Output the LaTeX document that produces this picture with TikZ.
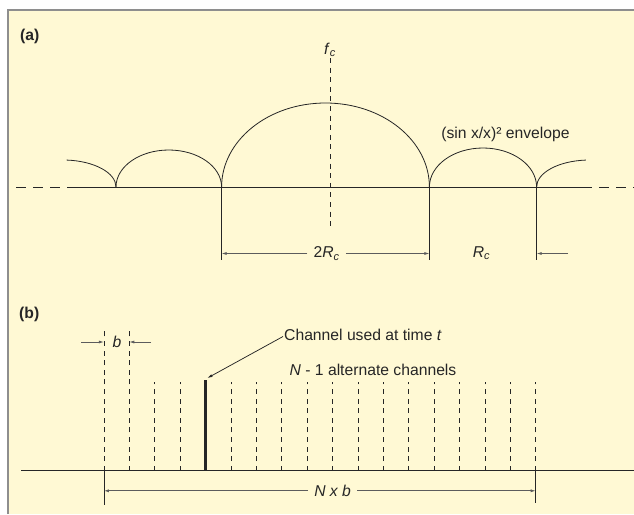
\documentclass[tikz,border=0pt]{standalone}
\usepackage{fontspec}
\setmainfont{Liberation Sans}
\usetikzlibrary{arrows.meta,positioning}
\definecolor{panelbg}{HTML}{FFF9D4}
\definecolor{panelrule}{HTML}{8E8E8E}
\definecolor{ink}{HTML}{262626}

\begin{document}
\begin{tikzpicture}[x=1pt,y=-1pt,
    every node/.style={font=\fontsize{15.7}{18}\selectfont,text=ink,inner sep=1pt},
    panellabel/.style={font=\bfseries\fontsize{15.7}{18}\selectfont,anchor=west},
    dimlabel/.style={inner sep=6pt},
    dimarrow/.style={-{Latex[length=5pt,width=3pt]},ink!75,line width=0.75pt},
    rule/.style={ink,line width=0.8pt},
    chan/.style={ink,line width=0.75pt,dash pattern=on 5pt off 4.6pt}]
  \useasboundingbox (0,0) rectangle (634,514);
  \fill[panelbg] (8,10) rectangle (634,514);
  \draw[panelrule,line width=1.2pt] (8,514) -- (8,10) -- (634,10);

  % (a) spectrum of the direct-sequence signal
  \node[panellabel] (lbla) at (19,36) {(a)};
  \draw[rule,dash pattern=on 10pt off 7pt] (16,187) -- (72,187);
  \draw[rule] (72,187) -- (582,187);
  \draw[rule,dash pattern=on 10pt off 7pt] (582,187) -- (634,187);
  \coordinate (z1) at (116,187);
  \coordinate (z2) at (221.6,187);
  \coordinate (z3) at (429.4,187);
  \coordinate (z4) at (536.6,187);
  \draw[rule] (z1) arc[start angle=0,end angle=86,x radius=53pt,y radius=27pt];
  \draw[rule] (z1) arc[start angle=180,end angle=0,x radius=52.8pt,y radius=37pt];
  \draw[rule] (z2) arc[start angle=180,end angle=0,x radius=103.9pt,y radius=84pt];
  \draw[rule] (z3) arc[start angle=180,end angle=0,x radius=53.6pt,y radius=39pt];
  \draw[rule] (z4) arc[start angle=180,end angle=94,x radius=53pt,y radius=27pt];
  \node (fc) at (330,50) {\textit{f}\textsubscript{\textit{c}}};
  \draw[chan] (fc.south) -- (330,227);
  \node (env) at (505.5,134) {(sin x/x)² envelope};

  \node[dimlabel] (twoRc) at (326.7,253.5) {2\textit{R}\textsubscript{\textit{c}}};
  \node (Rc) at (481.5,253.5) {\textit{R}\textsubscript{\textit{c}}};
  \coordinate (rcend) at (568,253.5);
  \foreach \z in {z2,z3,z4}
    \draw[rule] (\z) -- ++(0,73);
  \draw[dimarrow] (twoRc.west) -- (z2 |- twoRc);
  \draw[dimarrow] (twoRc.east) -- (z3 |- twoRc);
  \draw[dimarrow] (rcend) -- (z4 |- rcend);

  % (b) frequency-hopping channels
  \node[panellabel] (lblb) at (18,314.5) {(b)};
  \draw[rule] (21,470.7) -- (634,470.7);
  \foreach \i in {0,...,17}
    \coordinate (ch\i) at ({103.9+25.4*\i},470.7);
  \foreach \i in {0,1}
    \draw[chan] (ch\i) -- ++(0,-142.7);
  \foreach \i in {2,3,5,6,7,8,9,10,11,12,13,14,15,16,17}
    \draw[chan] (ch\i) -- ++(0,-89);
  \draw[ink,line width=2.2pt] (ch4) -- ++(0,-90.7) coordinate (used);

  \node (b) at (116.9,342) {\textit{b}};
  \coordinate (bl) at (81,342);
  \coordinate (br) at (151,342);
  \draw[dimarrow] (bl) -- (ch0 |- b);
  \draw[dimarrow] (br) -- (ch1 |- b);

  \node[anchor=west] (usedtxt) at (283,334.5) {Channel used at time \textit{t}};
  \draw[dimarrow,ink] ([yshift=-2pt]usedtxt.west) -- ([xshift=2pt,yshift=2pt]used);
  \node (alt) at (373,369.7) {\textit{N} - 1 alternate channels};

  \node[dimlabel] (nxb) at (332.6,490.8) {\textit{N x b}};
  \draw[rule] (ch0) -- ++(0,34.3);
  \draw[rule] (ch17) -- ++(0,32);
  \draw[dimarrow] (nxb.west) -- (ch0 |- nxb);
  \draw[dimarrow] (nxb.east) -- (ch17 |- nxb);
\end{tikzpicture}
\end{document}
